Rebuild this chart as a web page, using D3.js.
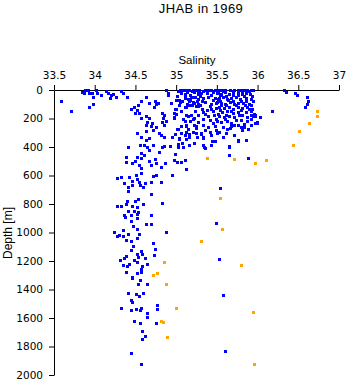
<!DOCTYPE html>
<html><head><meta charset="utf-8">
<script src="https://cdn.jsdelivr.net/npm/d3@7"></script>
<style>html,body{margin:0;padding:0;background:#fff;overflow:hidden}</style>
</head><body>
<svg id="chart" width="348" height="384"></svg>
<script>
const title = "JHAB in 1969";
const xLabel = "Salinity";
const yLabel = "Depth [m]";
const salinityTicks = [33.5, 34, 34.5, 35, 35.5, 36, 36.5, 37];
const depthTicks = [0, 200, 400, 600, 800, 1000, 1200, 1400, 1600, 1800, 2000];

// [salinity, depth]
const blueSamples = [
[33.85,16],[33.89,5],[33.92,2],[33.94,23],[33.97,28],[33.88,28],[34.02,5],[34.04,23],[34.08,40],[33.99,56],
[34.15,9],[34.17,23],[34.20,40],[34.19,63],[34.23,35],[34.27,51],[34.33,9],[34.35,28],[34.40,56],[33.59,79],
[33.72,149],[33.93,126],[33.98,105],[34.45,138],[34.49,121],[34.52,145],[34.54,110],[34.50,163],[34.55,168],[34.63,56],
[34.58,79],[34.67,98],[34.75,79],[34.76,103],[34.73,126],[34.78,93],[34.83,163],[34.86,180],[34.57,198],[34.63,184],
[34.67,198],[34.85,198],[34.88,219],[34.65,226],[34.71,233],[34.64,250],[34.70,257],[34.76,261],[34.86,250],[34.83,226],
[34.63,292],[34.53,303],[34.58,336],[34.72,285],[34.79,308],[34.82,320],[34.86,331],[34.67,343],[34.63,355],[34.56,390],
[34.61,390],[34.65,401],[34.72,390],[34.83,401],[34.86,397],[34.41,406],[34.67,425],[34.80,436],[34.57,448],[34.61,460],
[34.52,471],[34.58,483],[34.39,476],[34.39,509],[34.47,518],[34.50,499],[34.67,499],[34.75,490],[34.76,518],[34.87,513],
[34.55,530],[34.58,553],[34.70,530],[34.82,541],[34.57,583],[34.51,602],[34.43,616],[34.72,607],[34.76,600],[34.28,618],
[34.33,616],[34.53,630],
[34.88,5],[34.91,23],[34.90,40],[34.94,98],[35.00,140],[34.98,163],[35.05,2],[35.09,5],[35.13,2],[35.06,28],
[35.04,75],[35.12,63],[35.16,79],[35.19,56],[35.25,5],[35.27,28],[35.23,51],[35.26,79],[35.13,121],[35.17,110],
[35.22,98],[35.27,117],[35.15,187],[34.98,203],[35.11,219],[35.23,203],[35.25,257],[35.13,257],[35.02,280],[35.06,303],
[35.13,296],[35.17,313],[35.25,303],[34.99,313],[34.95,336],[35.04,343],[35.08,373],[35.22,378],[35.03,401],[34.93,397],
[34.99,453],[35.13,560],[34.98,495],[35.02,506],[35.06,506],[35.11,495],[34.95,600],
[34.37,653],[34.46,642],[34.55,649],[34.56,672],[34.62,653],[34.70,649],[34.82,649],[34.41,681],[34.47,672],[34.60,681],
[34.41,712],[34.70,735],[34.54,765],[34.40,782],[34.50,782],[34.39,805],[34.83,793],[34.60,805],[34.33,817],[34.28,821],
[34.47,821],[34.53,828],[34.41,852],[34.49,852],[34.54,863],[34.36,882],[34.45,882],[34.38,898],[34.52,875],[34.70,882],
[34.52,905],[34.45,922],[34.63,945],[34.70,945],[34.48,961],[34.52,980],[34.24,999],[34.35,985],[34.88,999],[34.55,1015],
[34.42,1015],[34.31,1022],[34.28,1031],[34.35,1031],[34.52,1045],[34.39,1055],[34.45,1062],[34.72,1078],[34.48,1097],[34.45,1125],
[34.58,1132],[34.75,1120],[34.53,1155],[34.59,1155],[34.73,1162],[34.39,1167],[34.36,1181],[34.32,1195],[34.62,1185],[34.49,1195],
[34.54,1178],[34.53,1213],[34.43,1225],[34.35,1232],[34.40,1241],[34.59,1237],[34.65,1227],[34.58,1260],[34.58,1279],[34.39,1279],
[34.52,1288],[34.47,1318],
[34.46,1321],[34.56,1335],[34.65,1368],[34.54,1368],[34.42,1428],[34.51,1437],[34.55,1451],[34.60,1428],[34.45,1475],[34.46,1489],
[34.33,1531],[34.51,1538],[34.56,1545],[34.58,1531],[34.45,1549],[34.77,1514],[34.77,1538],[34.65,1568],[34.65,1596],[34.49,1624],
[34.56,1638],[34.76,1638],[34.59,1694],[34.62,1731],[34.59,1752],[34.45,1848],[34.58,1927],
[35.54,689],[35.49,934],[35.53,1186],[35.58,1443],[35.61,1835],
[36.33,2],[36.36,16],[36.46,23],[36.49,40],[36.61,51],[36.62,79],[36.61,103],[36.59,126],[36.18,149],
[35.76,359],[35.65,397],[35.65,460],[35.89,483],[35.43,390],[35.34,390],[35.35,406],[35.45,359],[35.33,336],[36.04,191],
[35.97,180],[35.87,357],[35.31,315],[36.00,233],[35.97,238],[35.98,187],
[35.31,308],[35.62,303],[35.80,261],[35.84,261],[35.51,303],
[35.06,2],[35.09,1],[35.13,1],[35.17,1],[35.21,1],[35.25,1],[35.29,1],[35.36,1],[35.40,1],[35.44,1],[35.48,1],[35.52,1],
[35.07,23],[35.12,30],[35.14,19],[35.23,19],[35.27,30],[35.31,23],[35.38,23],[35.46,19],[35.51,23],
[35.11,54],[35.15,65],[35.24,54],[35.27,70],[35.33,61],[35.40,54],[35.48,61],[35.52,65],
[35.01,77],[35.05,89],[35.14,100],[35.21,89],[35.28,100],[35.36,89],[35.43,100],[35.50,93],
[34.99,135],[35.11,124],[35.25,117],[35.32,135],[35.38,147],[35.44,135],[35.50,131],
[35.13,182],[35.19,177],[35.36,170],[35.40,187],[35.47,177],
[34.98,194],[35.09,210],[35.21,205],[35.33,205],[35.42,217],[35.50,205],
[35.13,252],[35.23,247],[35.33,247],[35.48,257],
[35.03,275],[35.15,280],[35.25,271],[35.36,287],[35.50,287],
[34.99,310],[35.11,317],[35.21,299],[35.33,341],[35.44,322],
[35.04,345],[35.13,350],[35.17,334],[35.48,364],
[35.03,380],[35.17,387],[35.33,392],[35.09,404],[35.36,411],
[35.53,1],[35.57,1],[35.61,1],[35.67,1],[35.72,1],[35.76,1],[35.80,1],[35.84,1],[35.88,1],[35.92,1],[35.95,1],
[35.52,23],[35.56,30],[35.60,19],[35.65,30],[35.71,23],[35.76,19],[35.81,30],[35.86,23],[35.91,30],
[35.53,61],[35.58,54],[35.63,65],[35.68,61],[35.74,54],[35.79,65],[35.86,61],[35.92,65],
[35.51,89],[35.56,93],[35.61,100],[35.67,89],[35.72,100],[35.77,93],[35.83,93],[35.90,100],
[35.53,124],[35.59,131],[35.65,124],[35.71,135],[35.76,124],[35.82,131],[35.88,124],[35.94,135],
[35.57,159],[35.63,154],[35.70,163],[35.76,159],[35.86,159],[35.92,154],[35.96,170],
[35.53,187],[35.59,194],[35.65,187],[35.72,194],[35.78,182],[35.88,194],[35.95,187],[36.04,194],
[35.51,224],[35.56,229],[35.63,224],[35.74,217],[35.80,217],
[35.72,252],[35.76,247],[35.84,240],[35.98,233],[36.00,229],
[35.53,299],[35.63,275],[35.67,271],[35.81,287],[35.89,275],
[35.76,357],[35.65,404],
[35.03,10],[35.20,12],[35.34,8],[35.46,10],[35.58,10],[35.70,12],[35.82,10],[35.90,8],
[35.02,45],[35.18,40],[35.30,44],[35.44,42],[35.55,40],[35.62,45],[35.70,42],[35.77,40],[35.84,44],[35.94,46],
[35.08,78],[35.18,72],[35.32,80],[35.46,76],[35.54,78],[35.64,74],[35.70,80],[35.80,78],[35.87,80],[35.95,82],
[35.04,110],[35.20,108],[35.30,112],[35.42,115],[35.56,110],[35.62,112],[35.74,110],[35.85,112],[35.92,110],
[35.07,150],[35.24,152],[35.33,156],[35.46,152],[35.54,146],[35.68,148],[35.80,145],[35.90,140],
[35.00,172],[35.28,176],[35.52,172],[35.62,178],[35.82,176],[35.92,180],
[35.18,222],[35.28,230],[35.46,232],[35.60,210],[35.68,238],[35.88,222],[35.93,210],
[35.06,255],[35.40,262],[35.58,262],[35.68,256],[35.92,250],
[35.42,300],[35.72,318],[35.26,330],[35.58,330]
];

const orangeSamples = [
[35.31,1064],[34.86,1209],[34.72,1302],[34.77,1288],[34.88,1364],[35.01,1536],[34.84,1630],[34.82,1625],[34.89,1737],
[35.54,759],[35.57,976],[35.80,1233],[35.95,1564],[35.96,1925],
[36.74,154],[36.73,184],[36.64,233],[36.52,289],[36.44,390],[36.11,495],[35.97,513],[35.72,485],[35.39,481]
];

const svg = d3.select("#chart");
const x = d3.scaleLinear().domain([33.5, 37]).range([54, 339]);
const y = d3.scaleLinear().domain([0, 2000]).range([90, 375]);

const tickFont = "'DejaVu Sans', sans-serif";

const gx = svg.append("g").attr("transform", "translate(0,90)")
  .call(d3.axisTop(x).tickValues(salinityTicks).tickFormat(d3.format("")).tickSize(5).tickSizeOuter(0).tickPadding(6));
const gy = svg.append("g").attr("transform", "translate(54,0)")
  .call(d3.axisLeft(y).tickValues(depthTicks).tickFormat(d3.format("")).tickSize(5).tickSizeOuter(0).tickPadding(6));
[gx, gy].forEach(g => {
  g.selectAll("path,line").attr("stroke", "#000").attr("stroke-width", 1);
  g.selectAll("text").attr("font-family", tickFont).attr("font-size", 10.5).attr("fill", "#000");
});

const size = 3;
svg.append("g").selectAll("rect").data(blueSamples).join("rect")
  .attr("x", d => x(d[0]) - size/2).attr("y", d => y(d[1]) - size/2)
  .attr("width", size).attr("height", size).attr("fill", "#0000ff")
  .attr("shape-rendering", "crispEdges");
svg.append("g").selectAll("rect").data(orangeSamples).join("rect")
  .attr("x", d => x(d[0]) - size/2).attr("y", d => y(d[1]) - size/2)
  .attr("width", size).attr("height", size).attr("fill", "#ffa500")
  .attr("shape-rendering", "crispEdges");

svg.append("text").attr("x", 201).attr("y", 13).attr("text-anchor", "middle")
  .attr("font-family", "'Liberation Sans', Arial, sans-serif").attr("font-size", 13)
  .attr("letter-spacing", 0.4).text(title);
svg.append("text").attr("x", 197).attr("y", 64).attr("text-anchor", "middle")
  .attr("font-family", "'Liberation Sans', Arial, sans-serif").attr("font-size", 11.5).text(xLabel);
svg.append("text").attr("transform", "translate(12,233) rotate(-90)").attr("text-anchor", "middle")
  .attr("font-family", "'Liberation Sans', Arial, sans-serif").attr("font-size", 12).text(yLabel);
</script>
</body></html>
